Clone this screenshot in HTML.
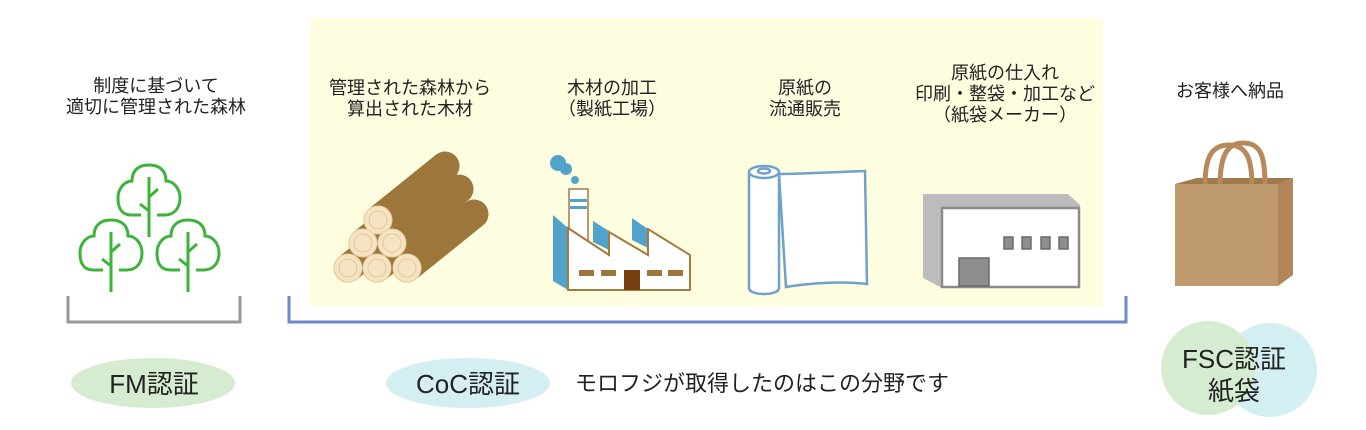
<!DOCTYPE html>
<html><head><meta charset="utf-8"><style>
html,body{margin:0;padding:0;background:#fff;}
svg{display:block;}
text{font-family:"Liberation Sans","Noto Sans CJK JP",sans-serif;fill:#222;}
</style></head><body>
<svg width="1366" height="430" viewBox="0 0 1366 430" xmlns="http://www.w3.org/2000/svg">
<defs>
<g id="t1">
<path d="M-8 25 H-18 C-28 25 -31 17 -31 8 C-31 -2 -24 -9 -17 -9 C-17 -20 -10 -25 0 -25 C10 -25 17 -20 17 -9 C24 -9 31 -2 31 8 C31 17 26 25 16 25 H8"/>
<path d="M0 -13 V47 M0 21 L-9 14 M0 7 L9 -1"/>
</g>
</defs>
<rect x="310" y="18" width="793" height="288" fill="#fefde0"/>
<!-- brackets -->
<path d="M68 296 V322 H240 V296" fill="none" stroke="#999" stroke-width="3"/>
<path d="M289 296 V322 H1126 V296" fill="none" stroke="#6b8ac9" stroke-width="3"/>
<!-- labels top -->
<g font-size="18" text-anchor="middle">
<text x="156" y="92">制度に基づいて</text><text x="156" y="113">適切に管理された森林</text>
<text x="410" y="94">管理された森林から</text><text x="410" y="115">算出された木材</text>
<text x="612" y="94">木材の加工</text><text x="612" y="115">（製紙工場）</text>
<text x="805" y="94">原紙の</text><text x="805" y="115">流通販売</text>
<text x="1005" y="79">原紙の仕入れ</text><text x="1005" y="100">印刷・整袋・加工など</text><text x="1005" y="121">（紙袋メーカー）</text>
<text x="1230" y="97">お客様へ納品</text>
</g>
<!-- trees -->
<g fill="none" stroke="#3db33a" stroke-width="3">
<use href="#t1" transform="translate(149,190)"/>
<use href="#t1" transform="translate(111,245)"/>
<use href="#t1" transform="translate(188,245)"/>
</g>
<!-- logs -->
<g stroke-linecap="round" stroke-width="29" stroke="#9d763b">
<line x1="378" y1="220" x2="445" y2="166"/>
<line x1="392" y1="243" x2="459" y2="189"/>
<line x1="407" y1="268" x2="474" y2="214"/>
<line x1="363" y1="243" x2="430" y2="189"/>
<line x1="377" y1="268" x2="444" y2="214"/>
<line x1="348" y1="268" x2="415" y2="214"/>
</g>
<g fill="#f5e3c3" stroke="#e8cfa3" stroke-width="1">
<circle cx="378" cy="220" r="14"/><circle cx="363" cy="243" r="14"/><circle cx="392" cy="243" r="14"/>
<circle cx="348" cy="268" r="14"/><circle cx="377" cy="268" r="14"/><circle cx="407" cy="268" r="14"/>
</g>
<g fill="none" stroke="#e3c89a" stroke-width="1">
<circle cx="378" cy="220" r="9"/><circle cx="363" cy="243" r="9"/><circle cx="392" cy="243" r="9"/>
<circle cx="348" cy="268" r="9"/><circle cx="377" cy="268" r="9"/><circle cx="407" cy="268" r="9"/>
</g>
<!-- factory -->
<circle cx="558" cy="163" r="8" fill="#52a3cc"/><circle cx="566" cy="169" r="6" fill="#52a3cc"/><circle cx="575" cy="180" r="4" fill="#52a3cc"/>
<polygon points="553,215 568,228 568,290 553,281" fill="#52a3cc"/>
<polygon points="593,221 609,231 609,250 593,242" fill="#52a3cc"/>
<polygon points="632,218 648,229 648,248 632,240" fill="#52a3cc"/>
<rect x="569" y="189" width="19" height="60" fill="#fff" stroke="#a57a3e" stroke-width="1.5"/>
<rect x="570" y="199" width="17" height="3" fill="#52a3cc"/><rect x="570" y="206" width="17" height="3" fill="#52a3cc"/>
<polygon points="568,228 609,255 609,232 648,255 648,229 690,255 690,290 568,290" fill="#fff" stroke="#a57a3e" stroke-width="2"/>
<g fill="#9d763b"><rect x="579" y="270" width="15" height="6"/><rect x="601" y="270" width="15" height="6"/><rect x="647" y="270" width="15" height="6"/><rect x="668" y="270" width="15" height="6"/></g>
<rect x="624" y="270" width="16" height="20" fill="#763f0f"/>
<!-- paper roll -->
<g fill="#fff" stroke="#6ea2cb" stroke-width="2.5">
<path d="M779 174 C805 174 835 172 865 171 L867 284 C840 281 810 283 786 287 Z"/>
<path d="M749 172 V288 C749 296 779 296 779 288 V172"/>
<ellipse cx="764" cy="172" rx="15" ry="6"/>
<ellipse cx="764" cy="171" rx="6" ry="2.5"/>
</g>
<!-- building -->
<polygon points="923,194 1068,194 1080,205 1080,288 942,288 923,278" fill="#bcbcbc"/>
<rect x="942" y="208" width="137" height="79" fill="#fff" stroke="#8c8c8c" stroke-width="2.5"/>
<rect x="959" y="258" width="30" height="28" fill="#8e8e8e" stroke="#6a6a6a" stroke-width="1.5"/>
<g fill="#8e8e8e" stroke="#6a6a6a" stroke-width="1.5"><rect x="1004" y="237" width="9" height="12"/><rect x="1022" y="237" width="9" height="12"/><rect x="1041" y="237" width="9" height="12"/><rect x="1059" y="237" width="9" height="12"/></g>
<!-- bag -->
<polygon points="1175,184 1197,178 1293,178 1278,184" fill="#9f7a4d"/>
<path d="M1205 186 C1205 160 1210 145 1229 145 C1247 145 1252 160 1252 186" fill="none" stroke="#b8895a" stroke-width="5"/>
<path d="M1220 186 C1220 158 1226 143 1243 143 C1262 143 1265 158 1265 186" fill="none" stroke="#b8895a" stroke-width="5"/>
<rect x="1175" y="184" width="103" height="102" fill="#c09a6f"/>
<polygon points="1278,184 1293,178 1293,275 1278,286" fill="#b38659"/>
<!-- bottom -->
<ellipse cx="153" cy="383" rx="82" ry="25" fill="#d5ecd0"/>
<ellipse cx="468" cy="383" rx="82" ry="25" fill="#d3eff2"/>
<circle cx="1270" cy="370" r="47" fill="#d3eff2"/>
<circle cx="1208" cy="368" r="47" fill="#d5ecd0"/>
<g font-size="26" text-anchor="middle">
<text x="154" y="393">FM認証</text>
<text x="468" y="393">CoC認証</text>
<text x="1234" y="368">FSC認証</text>
<text x="1234" y="400">紙袋</text>
</g>
<text x="575" y="391" font-size="22">モロフジが取得したのはこの分野です</text>
</svg>
</body></html>
